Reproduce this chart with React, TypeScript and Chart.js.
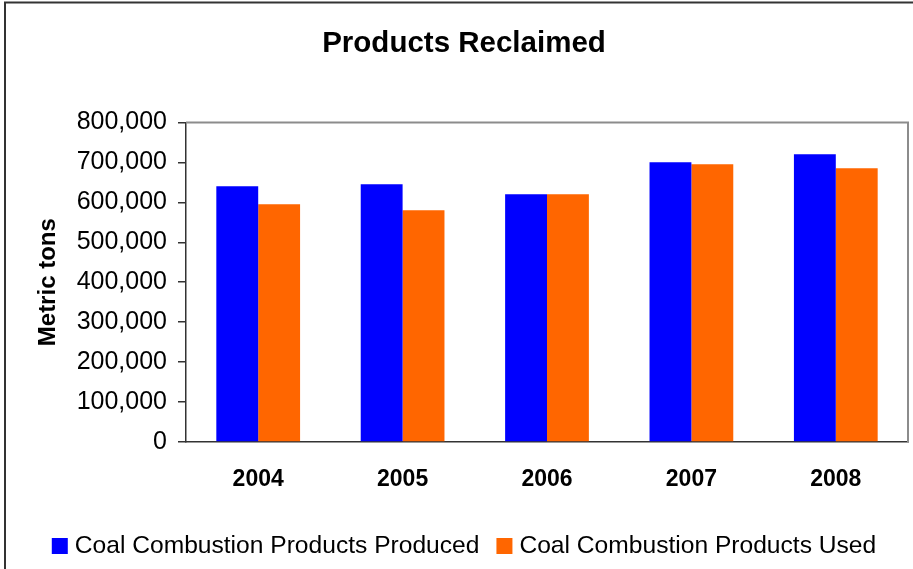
import React, { useEffect, useRef } from "react";
import { Chart, registerables } from "chart.js";

Chart.register(...registerables);

const categories = ["2004", "2005", "2006", "2007", "2008"];
const producedValues = [640000, 645000, 620000, 700000, 720000];
const usedValues = [595000, 580000, 620000, 695000, 685000];
const seriesLabels = ["Coal Combustion Products Produced", "Coal Combustion Products Used"];
const chartTitle = "Products Reclaimed";
const yAxisTitle = "Metric tons";

const FONT = "Liberation Sans, Arial, sans-serif";

const framePlugin = {
  id: "frameLines",
  beforeDraw(chart: any) {
    const ctx = chart.ctx;
    ctx.save();
    ctx.strokeStyle = "#333333";
    ctx.lineWidth = 2;
    ctx.beginPath();
    ctx.moveTo(5, chart.height);
    ctx.lineTo(5, 2.5);
    ctx.lineTo(chart.width, 2.5);
    ctx.stroke();
    ctx.restore();
  },
  afterDraw(chart: any) {
    const { ctx, chartArea } = chart;
    ctx.save();
    ctx.strokeStyle = "#8c8c8c";
    ctx.lineWidth = 2;
    ctx.beginPath();
    ctx.moveTo(chartArea.left, chartArea.top);
    ctx.lineTo(chartArea.right, chartArea.top);
    ctx.lineTo(chartArea.right, chartArea.bottom);
    ctx.stroke();
    ctx.restore();
  },
};

const legendPlugin = {
  id: "bottomLegend",
  afterDraw(chart: any) {
    const ctx = chart.ctx;
    ctx.save();
    ctx.font = `24.6px ${FONT}`;
    const box = 16;
    const gap = 7;
    const sep = 17;
    const items = chart.data.datasets.map((ds: any) => ({ label: ds.label, color: ds.backgroundColor }));
    const widths = items.map((it: any) => box + gap + ctx.measureText(it.label).width);
    const total = widths.reduce((a: number, b: number) => a + b, 0) + sep * (items.length - 1);
    let x = chart.width / 2 + 7.5 - total / 2;
    const cy = 546;
    ctx.textBaseline = "middle";
    ctx.textAlign = "left";
    items.forEach((it: any, i: number) => {
      ctx.fillStyle = it.color;
      ctx.fillRect(x, cy - 8, box, box);
      ctx.fillStyle = "#000";
      ctx.fillText(it.label, x + box + gap, cy);
      x += widths[i] + sep;
    });
    ctx.restore();
  },
};

export default function App() {
  const ref = useRef<HTMLCanvasElement>(null);
  useEffect(() => {
    if (!ref.current) return;
    const chart = new Chart(ref.current, {
      type: "bar",
      data: {
        labels: categories,
        datasets: [
          { label: seriesLabels[0], data: producedValues, backgroundColor: "#0000ff", borderWidth: 0 },
          { label: seriesLabels[1], data: usedValues, backgroundColor: "#ff6600", borderWidth: 0 },
        ],
      },
      options: {
        responsive: false,
        animation: false,
        layout: { padding: { left: 20, right: 5, top: 0, bottom: 67 } },
        datasets: { bar: { categoryPercentage: 0.58, barPercentage: 1 } },
        plugins: {
          title: {
            display: true,
            text: chartTitle,
            color: "#000",
            font: { family: FONT, size: 29.5, weight: "bold" },
            padding: { top: 26, bottom: 61 },
          },
          legend: { display: false },
          tooltip: { enabled: false },
        },
        scales: {
          x: {
            afterFit(scale: any) {
              scale.height = 60;
            },
            grid: { display: false, drawTicks: false },
            border: { display: true, color: "#333333", width: 1.5 },
            ticks: {
              color: "#000",
              padding: 24,
              font: { family: FONT, size: 23, weight: "bold" },
            },
          },
          y: {
            min: 0,
            max: 800000,
            afterFit(scale: any) {
              scale.width = 166;
            },
            ticks: {
              stepSize: 100000,
              color: "#000",
              padding: 11,
              font: { family: FONT, size: 25 },
              callback: (v: any) => Number(v).toLocaleString("en-US"),
            },
            grid: { drawOnChartArea: false, drawTicks: true, tickLength: 8, color: "#333333", lineWidth: 1.5 },
            border: { display: true, color: "#333333", width: 1.5 },
            title: {
              display: true,
              text: yAxisTitle,
              color: "#000",
              font: { family: FONT, size: 24, weight: "bold" },
              padding: { top: 13.5, bottom: 0 },
            },
          },
        },
      },
      plugins: [framePlugin, legendPlugin],
    });
    return () => chart.destroy();
  }, []);
  return (
    <div style={{ position: "fixed", left: 0, top: 0, width: 913, height: 569, background: "#fff" }}>
      <canvas ref={ref} width={913} height={569} style={{ display: "block" }} />
    </div>
  );
}
